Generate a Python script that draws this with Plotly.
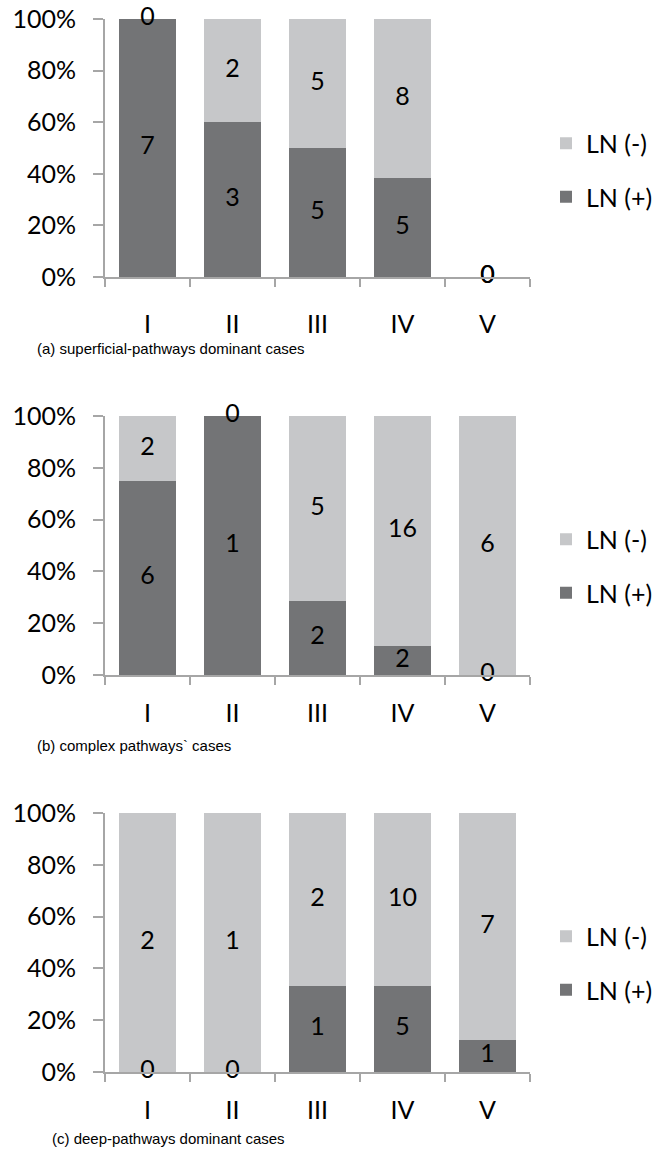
import plotly.graph_objects as go

categories = ["I", "II", "III", "IV", "V"]
pos_a = [7, 3, 5, 5, 0]
neg_a = [0, 2, 5, 8, 0]
pos_b = [6, 1, 2, 2, 0]
neg_b = [2, 0, 5, 16, 6]
pos_c = [0, 0, 1, 5, 1]
neg_c = [2, 1, 2, 10, 7]
captions = ["(a) superficial-pathways dominant cases",
            "(b) complex pathways` cases",
            "(c) deep-pathways dominant cases"]
series_names = ["LN (+)", "LN (-)"]
colors = {"LN (+)": "#737476", "LN (-)": "#c6c7c9"}

W, H = 657, 1153
panels = [(pos_a, neg_a), (pos_b, neg_b), (pos_c, neg_c)]
# pixel geometry for each panel: (top of plot, bottom of plot)
ypix = [(19, 277), (416, 675), (813, 1072)]
cap_pix = [(35, 348), (35, 745), (50, 1138)]
leg_pix = [170, 566, 963]
xlab_standoff = [24, 15, 15]
x0pix, x1pix = 105, 530

FONT = "Lato, Open Sans, sans-serif"
fig = go.Figure()
layout = dict(width=W, height=H, margin=dict(l=0, r=0, t=0, b=0, autoexpand=False),
              plot_bgcolor="white", paper_bgcolor="white",
              bargap=0.33, barmode="stack", annotations=[])

for i, (pos, neg) in enumerate(panels):
    k = "" if i == 0 else str(i + 1)
    xa, ya = "x" + k, "y" + k
    lg = "legend" + k
    pf, nf, ty_p, ty_n = [], [], [], []
    for p, n in zip(pos, neg):
        t = p + n
        fp = p / t if t else 0
        fn = n / t if t else 0
        pf.append(fp)
        nf.append(fn)
        ty_p.append(fp / 2 if p else 0)
        ty_n.append(fp + fn / 2 if n else (1 if t else 0))
    fig.add_trace(go.Bar(x=categories, y=pf, name="LN (+)", marker=dict(color=colors["LN (+)"], line=dict(width=0)),
                         xaxis=xa, yaxis=ya, legend=lg, legendgroup="p" + k, legendrank=2, hoverinfo="skip"))
    fig.add_trace(go.Bar(x=categories, y=nf, name="LN (-)", marker=dict(color=colors["LN (-)"], line=dict(width=0)),
                         xaxis=xa, yaxis=ya, legend=lg, legendgroup="n" + k, legendrank=1, hoverinfo="skip"))
    fig.add_trace(go.Scatter(x=categories, y=ty_p, mode="text", text=[str(v) for v in pos],
                             textfont=dict(family=FONT, size=25, color="black"),
                             xaxis=xa, yaxis=ya, showlegend=False, hoverinfo="skip", cliponaxis=False))
    fig.add_trace(go.Scatter(x=categories, y=ty_n, mode="text", text=[str(v) for v in neg],
                             textfont=dict(family=FONT, size=25, color="black"),
                             xaxis=xa, yaxis=ya, showlegend=False, hoverinfo="skip", cliponaxis=False))
    top, bot = ypix[i]
    layout["xaxis" + k] = dict(domain=[x0pix / W, x1pix / W], anchor=ya, type="category",
                               showline=True, linecolor="#a6a6a6", linewidth=2, automargin=False,
                               ticks="outside", tickson="boundaries", ticklen=8, tickwidth=2,
                               tickcolor="#a6a6a6", showgrid=False, ticklabelstandoff=xlab_standoff[i],
                               tickfont=dict(family=FONT, size=25, color="black"))
    layout["yaxis" + k] = dict(domain=[1 - bot / H, 1 - top / H], anchor=xa, range=[0, 1],
                               tickvals=[0, 0.2, 0.4, 0.6, 0.8, 1.0], tickformat=".0%",
                               showline=True, linecolor="#a6a6a6", linewidth=2, automargin=False,
                               ticks="outside", ticklen=10, tickwidth=2, tickcolor="#a6a6a6",
                               showgrid=False, zeroline=False, ticklabelstandoff=12,
                               tickfont=dict(family=FONT, size=25, color="black"))
    layout[lg] = dict(x=546 / W, y=1 - leg_pix[i] / H, xanchor="left", yanchor="middle",
                      traceorder="grouped", tracegroupgap=18,
                      font=dict(family=FONT, size=25, color="black"), bgcolor="rgba(0,0,0,0)")
    cx, cy = cap_pix[i]
    layout["annotations"].append(dict(text=captions[i], x=cx / W, y=1 - cy / H, xref="paper", yref="paper",
                                      xanchor="left", yanchor="middle", showarrow=False,
                                      font=dict(family="Liberation Sans, Arial", size=15, color="black")))

fig.update_layout(**layout)
fig.write_html("out.html", config={"displayModeBar": False},
               post_script="document.body.style.margin='0';document.body.style.overflow='hidden';")
